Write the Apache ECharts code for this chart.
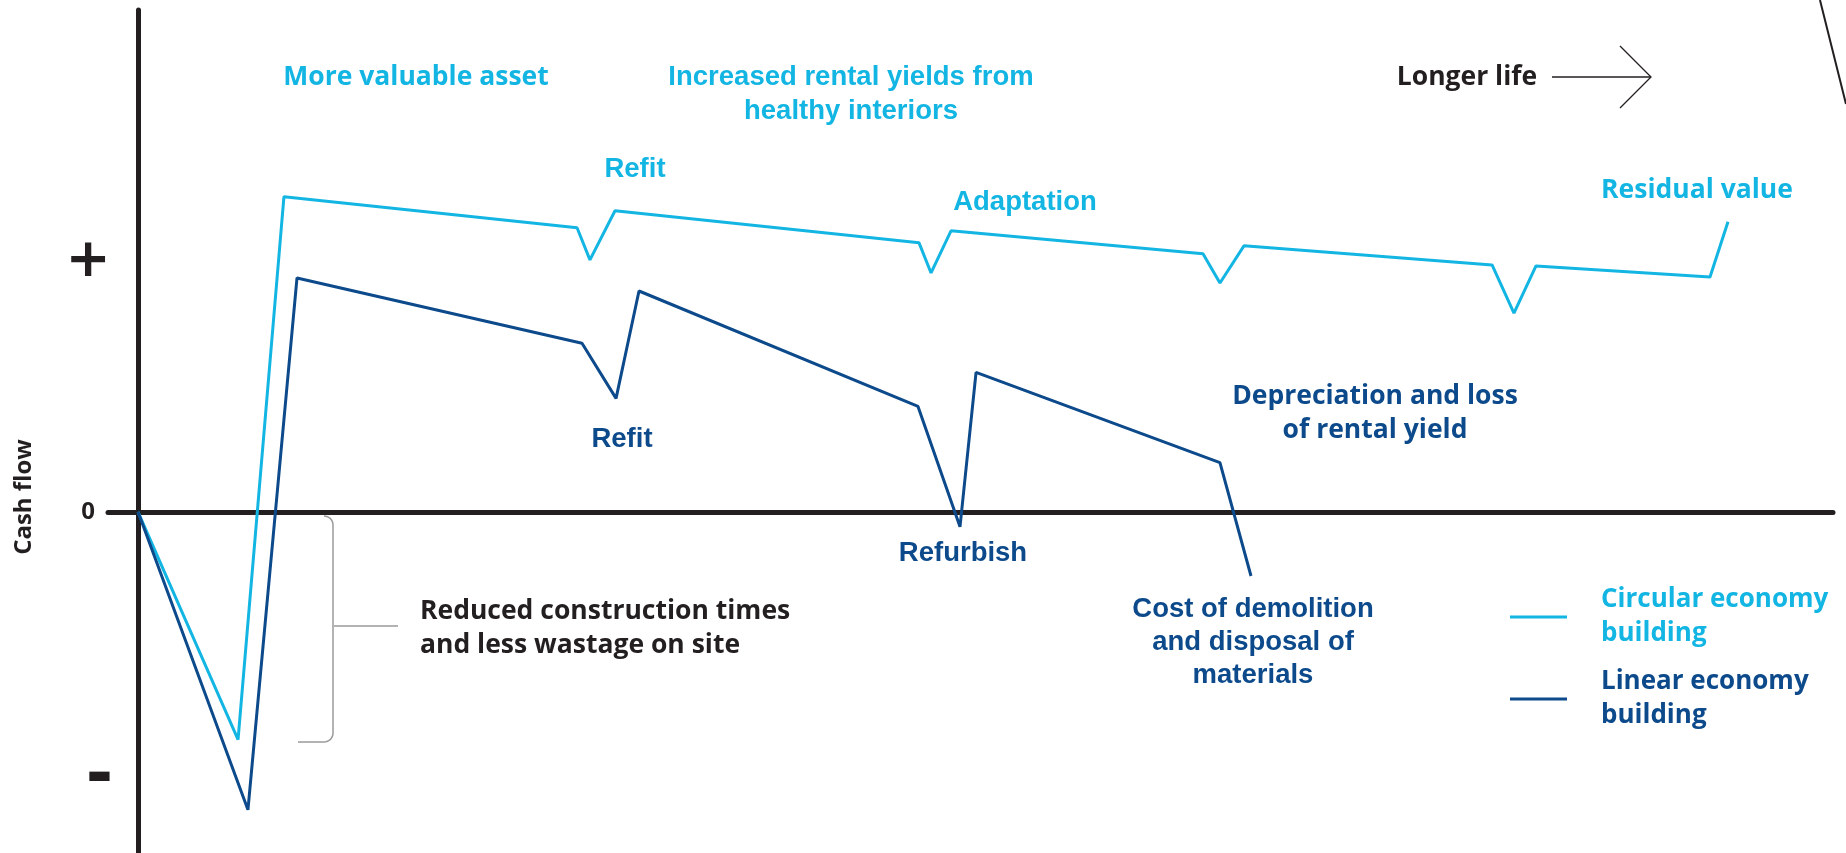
<!DOCTYPE html>
<html>
<head>
<meta charset="utf-8">
<script src="https://cdn.jsdelivr.net/npm/echarts@6/dist/echarts.min.js"></script>
<style>
html,body{margin:0;padding:0;background:#fff;}
#chart{width:1846px;height:853px;}
</style>
</head>
<body>
<div id="chart"></div>
<script>
// ---- data (arbitrary time / cash-flow units) ----
const circularX = [0, 6.67, 9.73, 29.27, 30.13, 31.8, 52.07, 52.87, 54.2, 71.0, 72.13, 73.73, 90.27, 91.73, 93.2, 104.8, 106.0];
const circularY = [0, -22.7, 31.4, 28.3, 25.1, 30.0, 26.8, 23.8, 28.0, 25.7, 22.8, 26.5, 24.6, 19.8, 24.5, 23.4, 28.9];
const linearX = [0, 7.33, 10.6, 29.6, 31.87, 33.4, 52.0, 54.8, 55.87, 72.13, 74.2];
const linearY = [0, -29.7, 23.3, 16.8, 11.3, 22.0, 10.5, -1.5, 13.9, 4.9, -6.4];
const seriesNames = ['Circular economy building', 'Linear economy building'];
const yTickValues = [-26.5, 0, 24.9];
const yTickLabels = ['-', '0', '+'];

const CYAN = '#13b5e3';
const NAVY = '#0c4a8b';
const INK = '#231f20';
const GEO = '"Open Sans", sans-serif';
const GRO = '"Liberation Sans", Arial, sans-serif';

const chart = echarts.init(document.getElementById('chart'), null, {renderer: 'canvas'});

function txt(text, x, y, color, font, size, align, lh) {
  return {
    type: 'text', x: x, y: y, silent: true,
    style: {
      text: text, fill: color, font: 'bold ' + size + 'px ' + font,
      align: align || 'center', verticalAlign: 'middle', lineHeight: lh || size * 1.3
    }
  };
}

// rounded bracket outline (decoration)
function bracketPoints() {
  const pts = [];
  const r = 9, x = 333, y0 = 516, y1 = 742;
  pts.push([x - r, y0]);
  for (let k = 1; k <= 8; k++) { const a = -Math.PI / 2 + k * Math.PI / 16; pts.push([x - r + r * Math.cos(a), y0 + r + r * Math.sin(a)]); }
  pts.push([x, y1 - r]);
  for (let k = 1; k <= 8; k++) { const a = k * Math.PI / 16; pts.push([x - r + r * Math.cos(a), y1 - r + r * Math.sin(a)]); }
  pts.push([298, y1]);
  return pts;
}

const option = {
  backgroundColor: '#fff',
  animation: false,
  grid: {left: 108, right: 13, top: 10, bottom: 0, containLabel: false},
  xAxis: {
    type: 'value', min: -2, max: 113,
    axisLine: {onZero: true, lineStyle: {color: INK, width: 5}},
    axisTick: {show: false}, axisLabel: {show: false}, splitLine: {show: false}
  },
  yAxis: {
    type: 'value', min: -34, max: 50,
    axisLine: {onZero: true, lineStyle: {color: INK, width: 5}},
    axisTick: {show: false}, splitLine: {show: false},
    axisLabel: {
      customValues: yTickValues,
      margin: 20, align: 'center',
      formatter: function (v) {
        const i = yTickValues.indexOf(v);
        const s = i >= 0 ? yTickLabels[i] : '';
        if (s === '0') return '{z|0}';
        if (s === '+') return '{p|+}';
        return '{m|' + s + '}';
      },
      rich: {
        z: {fontSize: 24, fontWeight: 'bold', color: INK, fontFamily: GEO},
        p: {fontSize: 54, fontWeight: 'bold', color: INK, fontFamily: '"DejaVu Sans"'},
        m: {fontSize: 66, fontWeight: 'bold', color: INK, fontFamily: '"DejaVu Sans"', padding: [0, 0, 0, 23]}
      }
    }
  },
  legend: {
    orient: 'vertical', left: 1505, top: 578,
    itemWidth: 57, itemHeight: 3, itemGap: 14, icon: 'rect',
    formatter: function (n) { return n.replace(' building', '\nbuilding'); },
    textStyle: {fontSize: 26, fontWeight: 'bold', fontFamily: GEO, lineHeight: 34, padding: [0, 0, 0, 29]},
    data: [
      {name: seriesNames[0], textStyle: {color: CYAN}},
      {name: seriesNames[1], textStyle: {color: NAVY}}
    ]
  },
  series: [
    {
      name: seriesNames[0], type: 'line', symbol: 'none',
      data: circularX.map((x, i) => [x, circularY[i]]),
      lineStyle: {color: CYAN, width: 3}, itemStyle: {color: CYAN}
    },
    {
      name: seriesNames[1], type: 'line', symbol: 'none',
      data: linearX.map((x, i) => [x, linearY[i]]),
      lineStyle: {color: NAVY, width: 3}, itemStyle: {color: NAVY}
    }
  ],
  graphic: [
    txt('More valuable asset', 416, 77, CYAN, GEO, 26.5),
    txt('Increased rental yields from\nhealthy interiors', 851, 94, CYAN, GRO, 27.5, 'center', 34),
    txt('Refit', 635, 169, CYAN, GRO, 27.5),
    txt('Adaptation', 1025, 202, CYAN, GRO, 27.5),
    txt('Residual value', 1697, 190, CYAN, GEO, 26.5),
    txt('Longer life', 1467, 77, INK, GEO, 26.5),
    txt('Refit', 622, 439, NAVY, GRO, 27.5),
    txt('Refurbish', 963, 553, NAVY, GRO, 27.5),
    txt('Depreciation and loss\nof rental yield', 1375, 413, NAVY, GEO, 26.5, 'center', 34),
    txt('Cost of demolition\nand disposal of\nmaterials', 1253, 642, NAVY, GRO, 27.5, 'center', 33),
    txt('Reduced construction times\nand less wastage on site', 420, 628, INK, GEO, 26.5, 'left', 34),
    {
      type: 'text', x: 24, y: 497, rotation: Math.PI / 2, silent: true,
      style: {text: 'Cash flow', fill: INK, font: 'bold 24px ' + GEO, align: 'center', verticalAlign: 'middle'}
    },
    {type: 'line', silent: true, shape: {x1: 1552, y1: 77, x2: 1651, y2: 77}, style: {stroke: INK, lineWidth: 1.3}},
    {type: 'polyline', silent: true, shape: {points: [[1620, 46], [1651, 77], [1620, 108]]}, style: {stroke: INK, lineWidth: 1.3, fill: null}},
    {type: 'line', silent: true, shape: {x1: 1820, y1: 0, x2: 1846, y2: 104}, style: {stroke: INK, lineWidth: 2}},
    {type: 'polyline', silent: true, shape: {points: bracketPoints()}, style: {stroke: '#9a9a9a', lineWidth: 1.5, fill: null}},
    {type: 'line', silent: true, shape: {x1: 334, y1: 626, x2: 398, y2: 626}, style: {stroke: '#9a9a9a', lineWidth: 1.5}}
  ]
};
chart.setOption(option);
</script>
</body>
</html>
